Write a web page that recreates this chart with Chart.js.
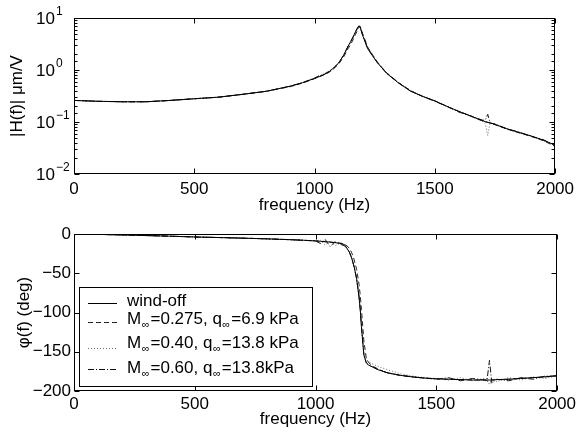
<!DOCTYPE html>
<html>
<head>
<meta charset="utf-8">
<script src="https://cdn.jsdelivr.net/npm/chart.js@4.4.1/dist/chart.umd.min.js"></script>
<style>
  html, body { margin: 0; padding: 0; background: #fff; }
  #wrap { position: relative; width: 579px; height: 436px; }
  .panel { position: absolute; left: 0; width: 579px; }
  #magPanel { top: 0; height: 216px; }
  #phasePanel { top: 216px; height: 220px; }
  canvas { display: block; }
</style>
</head>
<body>
<div id="wrap">
  <div class="panel" id="magPanel"><canvas id="magChart" width="579" height="216" style="width:579px;height:216px"></canvas></div>
  <div class="panel" id="phasePanel"><canvas id="phaseChart" width="579" height="220" style="width:579px;height:220px"></canvas></div>
</div>
<script>
const FONT_FAMILY = "'Liberation Sans', Arial, Helvetica, sans-serif";

// frequency samples (Hz)
const freq = [0, 100, 200, 300, 400, 500, 600, 700, 800, 900, 950, 1000, 1020, 1040, 1060, 1080, 1100, 1120, 1140, 1150,
  1160, 1170, 1180, 1185, 1190, 1200, 1210, 1220, 1240, 1260, 1280, 1300, 1350, 1400, 1450, 1500, 1550, 1600, 1650, 1700,
  1710, 1720, 1730, 1750, 1800, 1850, 1900, 1950, 2000];

// |H(f)| in um/V
const magWindOff = [0.26, 0.25, 0.245, 0.245, 0.26, 0.28, 0.30, 0.34, 0.39, 0.49, 0.57, 0.69, 0.75, 0.82, 0.92, 1.1, 1.36, 1.9, 2.9, 3.5,
  4.3, 5.4, 6.6, 7.1, 6.6, 4.6, 3.5, 2.6, 1.9, 1.4, 1.1, 0.86, 0.56, 0.39, 0.31, 0.255, 0.20, 0.16, 0.13, 0.105,
  0.102, 0.099, 0.096, 0.09, 0.074, 0.063, 0.054, 0.045, 0.036];
const magM275 = [0.26, 0.25, 0.245, 0.245, 0.26, 0.28, 0.30, 0.34, 0.39, 0.48, 0.56, 0.68, 0.74, 0.81, 0.9, 1.06, 1.3, 1.75, 2.6, 3.1,
  3.8, 4.8, 6.0, 6.7, 6.9, 5.0, 3.8, 2.8, 2.0, 1.45, 1.12, 0.88, 0.57, 0.40, 0.31, 0.255, 0.20, 0.16, 0.13, 0.104,
  0.10, 0.098, 0.096, 0.089, 0.073, 0.062, 0.053, 0.044, 0.034];
const magM40 = [0.26, 0.25, 0.245, 0.245, 0.26, 0.28, 0.30, 0.34, 0.39, 0.49, 0.57, 0.69, 0.75, 0.86, 0.92, 1.12, 1.36, 1.85, 2.8, 3.4,
  4.2, 5.3, 6.5, 7.0, 6.5, 4.8, 3.7, 2.7, 2.0, 1.45, 1.12, 0.87, 0.57, 0.40, 0.31, 0.255, 0.20, 0.16, 0.128, 0.102,
  0.092, 0.055, 0.10, 0.088, 0.073, 0.062, 0.054, 0.044, 0.035];
const magM60 = [0.26, 0.25, 0.245, 0.245, 0.26, 0.28, 0.30, 0.34, 0.39, 0.49, 0.57, 0.70, 0.78, 0.82, 0.95, 1.1, 1.36, 1.9, 2.9, 3.5,
  4.3, 5.4, 6.6, 7.1, 6.6, 4.7, 3.6, 2.7, 1.95, 1.42, 1.1, 0.86, 0.56, 0.39, 0.31, 0.25, 0.20, 0.155, 0.13, 0.108,
  0.11, 0.14, 0.095, 0.092, 0.074, 0.064, 0.053, 0.046, 0.035];

// phase in degrees
const phaseWindOff = [0, -0.5, -1.2, -2, -2.8, -3.8, -4.5, -5.3, -6.2, -7.3, -8, -8.8, -9.3, -9.8, -10.3, -11, -11.8, -13.5, -23, -31,
  -42, -57, -80, -96, -118, -154, -164, -167, -170, -173, -175, -177, -180, -182, -183.5, -184.5, -185, -185.5, -186, -186,
  -186, -186, -186, -185.5, -185, -184, -183, -182, -180.5];
const phaseM275 = [0, -0.5, -1.2, -2, -2.8, -3.8, -4.5, -5.3, -6.2, -7.3, -8, -8.8, -9.3, -9.8, -10.3, -11, -11.5, -12.5, -18, -24,
  -33, -45, -64, -78, -96, -136, -158, -164, -169, -172, -175, -177, -180, -182, -183.5, -184.5, -185, -185.5, -186, -186,
  -187, -189, -186, -185.5, -185, -184, -183, -182, -180.5];
const phaseM40 = [0, -0.5, -1.2, -2, -2.8, -3.8, -4.5, -5.3, -6.2, -7.3, -8, -8.8, -8, -14, -9, -15, -12, -14, -23, -31,
  -42, -57, -80, -96, -118, -152, -160, -163, -166, -169, -171, -173, -178, -181, -183, -184, -186, -183, -187, -184,
  -184, -192, -185, -188, -183, -186, -182, -184, -181];
const phaseM60 = [0, -0.5, -1.2, -2, -2.8, -3.8, -4.5, -5.3, -6.2, -7.3, -8, -8.8, -12, -7, -16, -10, -13, -15, -23, -31,
  -42, -57, -80, -96, -118, -154, -164, -167, -170, -173, -175, -177, -180, -182, -183.5, -185, -183, -187, -184, -186,
  -186, -161, -190, -185, -187, -183, -185, -181, -181];

const freqTicks = [0, 500, 1000, 1500, 2000];
const phaseTicks = [-200, -150, -100, -50, 0];
const magDecades = [0.01, 0.1, 1, 10];

const seriesLabels = ['wind-off', 'M_\u221E=0.275, q_\u221E=6.9 kPa', 'M_\u221E=0.40, q_\u221E=13.8 kPa', 'M_\u221E=0.60, q_\u221E=13.8kPa'];
const seriesStyles = [
  { color: '#000000', dash: [] },
  { color: '#222222', dash: [5, 3] },
  { color: '#6a6a6a', dash: [1, 2] },
  { color: '#111111', dash: [6, 2, 1, 2] },
];

const isDecade = (v) => Math.abs(Math.log10(v) - Math.round(Math.log10(v))) < 1e-6;
const fontOf = (size) => ({ family: FONT_FAMILY, size: size });

function makeDatasets(arrays) {
  return arrays.map((arr, i) => ({
    label: seriesLabels[i],
    data: freq.map((f, j) => ({ x: f, y: arr[j] })),
    borderColor: seriesStyles[i].color,
    borderDash: seriesStyles[i].dash,
    borderWidth: 1,
    pointRadius: 0,
    tension: 0,
    fill: false,
  }));
}

// box + inward ticks on all four sides, the way MATLAB draws axes
const matlabAxes = {
  id: 'matlabAxes',
  afterDraw(chart, args, opts) {
    const { ctx, chartArea: a, scales } = chart;
    const x = scales.x;
    const y = scales.y;
    const L = Math.round(a.left) + 0.5, R = Math.round(a.right) - 0.5;
    const T = Math.round(a.top) + 0.5, B = Math.round(a.bottom) - 0.5;
    ctx.save();
    ctx.strokeStyle = '#000';
    ctx.lineWidth = 1;
    ctx.setLineDash([]);
    ctx.beginPath();
    x.ticks.forEach((t) => {
      const px = Math.round(x.getPixelForValue(t.value)) + 0.5;
      ctx.moveTo(px, B); ctx.lineTo(px, B - 5);
      ctx.moveTo(px, T); ctx.lineTo(px, T + 5);
    });
    y.ticks.forEach((t) => {
      const py = Math.round(y.getPixelForValue(t.value)) + 0.5;
      const len = opts.log && !isDecade(t.value) ? 3 : 5;
      ctx.moveTo(L, py); ctx.lineTo(L + len, py);
      ctx.moveTo(R, py); ctx.lineTo(R - len, py);
    });
    ctx.stroke();
    ctx.strokeRect(L, T, R - L, B - T);

    if (opts.log) {
      ctx.fillStyle = '#000';
      ctx.textBaseline = 'middle';
      magDecades.forEach((v) => {
        const py = y.getPixelForValue(v);
        const e = Math.round(Math.log10(v));
        ctx.font = `17px ${FONT_FAMILY}`;
        ctx.textAlign = 'right';
        ctx.fillText('10', a.left - 19, py + 1);
        ctx.font = `12px ${FONT_FAMILY}`;
        ctx.textAlign = 'left';
        ctx.fillText(e < 0 ? '\u2212' + Math.abs(e) : String(e), a.left - 18, py - 6);
      });
    }
    ctx.restore();
  },
};

// legend box with subscripted infinity signs
const phaseLegend = {
  id: 'phaseLegend',
  afterDraw(chart, args, opts) {
    const { ctx } = chart;
    const box = opts.box;
    ctx.save();
    ctx.fillStyle = '#fff';
    ctx.fillRect(box.x, box.y, box.w, box.h);
    ctx.strokeStyle = '#000';
    ctx.lineWidth = 1;
    ctx.strokeRect(box.x + 0.5, box.y + 0.5, box.w, box.h);

    seriesLabels.forEach((label, i) => {
      const ly = opts.lineY[i] + 0.5;
      ctx.strokeStyle = seriesStyles[i].color;
      ctx.setLineDash(seriesStyles[i].dash);
      ctx.beginPath();
      ctx.moveTo(opts.lineX0, ly);
      ctx.lineTo(opts.lineX1, ly);
      ctx.stroke();

      ctx.fillStyle = '#000';
      ctx.textAlign = 'left';
      ctx.textBaseline = 'alphabetic';
      const base = opts.baseY[i];
      let cx = opts.textX;
      const parts = label.split('_\u221E');
      parts.forEach((part, k) => {
        ctx.font = `17px ${FONT_FAMILY}`;
        ctx.fillText(part, cx, base);
        cx += ctx.measureText(part).width;
        if (k < parts.length - 1) {
          ctx.font = `11px ${FONT_FAMILY}`;
          ctx.fillText('\u221E', cx + 0.5, base + 3.5);
          cx += ctx.measureText('\u221E').width + 1.5;
        }
      });
    });
    ctx.restore();
  },
};

function baseOptions(xHeight, tickPad, titlePadBottom) {
  return {
    responsive: false,
    animation: false,
    events: [],
    layout: { padding: { left: 0, right: 21, top: 18, bottom: 0 } },
    plugins: { legend: { display: false }, tooltip: { enabled: false } },
    scales: {
      x: {
        type: 'linear',
        min: 0,
        max: 2000,
        afterBuildTicks: (s) => { s.ticks = freqTicks.map((v) => ({ value: v })); },
        afterFit: (s) => { s.height = xHeight; },
        grid: { display: false, drawTicks: false },
        border: { display: false },
        ticks: { font: fontOf(17), color: '#000', padding: tickPad, maxRotation: 0, autoSkip: false, callback: (v) => String(v) },
        title: { display: true, text: 'frequency (Hz)', font: fontOf(17), color: '#000', padding: { top: 0, bottom: titlePadBottom } },
      },
    },
  };
}

const magOptions = baseOptions(42, 5, 0);
magOptions.plugins.matlabAxes = { log: true };
magOptions.scales.y = {
  type: 'logarithmic',
  min: 0.01,
  max: 10,
  afterFit: (s) => { s.width = 74; },
  grid: { display: false, drawTicks: false },
  border: { display: false },
  ticks: { autoSkip: false, callback: () => '' },
  title: { display: true, text: '|H(f)| \u03BCm/V', font: fontOf(17), color: '#000', padding: { top: 7, bottom: 0 } },
};

new Chart(document.getElementById('magChart'), {
  type: 'line',
  data: { datasets: makeDatasets([magWindOff, magM275, magM40, magM60]) },
  options: magOptions,
  plugins: [matlabAxes],
});

const phaseOptions = baseOptions(45, 3, 6);
phaseOptions.plugins.matlabAxes = { log: false };
phaseOptions.plugins.phaseLegend = {
  box: { x: 79, y: 71, w: 233, h: 99 },
  lineX0: 88,
  lineX1: 117,
  lineY: [87, 106, 132, 153],
  textX: 127,
  baseY: [90, 108, 132, 157],
};
phaseOptions.scales.y = {
  type: 'linear',
  min: -200,
  max: 0,
  afterBuildTicks: (s) => { s.ticks = phaseTicks.map((v) => ({ value: v })); },
  afterFit: (s) => { s.width = 74; },
  grid: { display: false, drawTicks: false },
  border: { display: false },
  ticks: {
    font: fontOf(17),
    color: '#000',
    padding: 3,
    callback: (v) => (v < 0 ? '\u2212' + Math.abs(v) : String(v)),
  },
  title: { display: true, text: '\u03C6(f) (deg)', font: fontOf(17), color: '#000', padding: { top: 14, bottom: 0 } },
};

new Chart(document.getElementById('phaseChart'), {
  type: 'line',
  data: { datasets: makeDatasets([phaseWindOff, phaseM275, phaseM40, phaseM60]) },
  options: phaseOptions,
  plugins: [matlabAxes, phaseLegend],
});
</script>
</body>
</html>
